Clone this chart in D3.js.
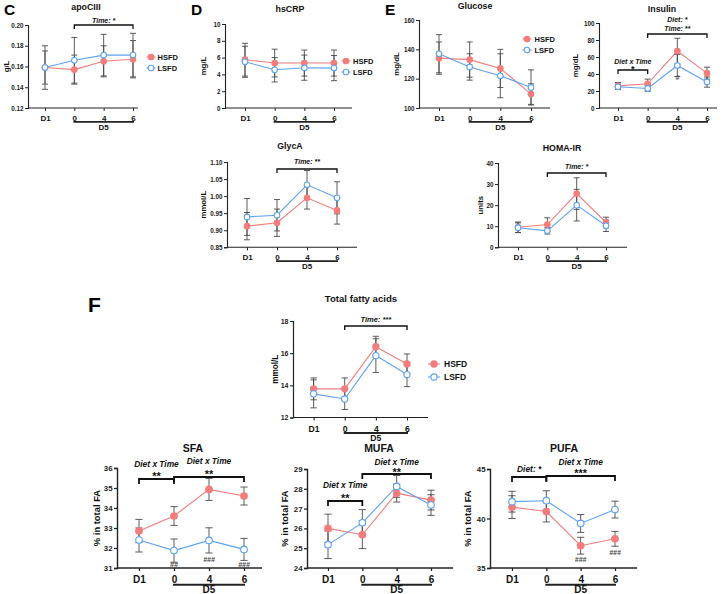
<!DOCTYPE html>
<html><head><meta charset="utf-8">
<script src="https://cdn.jsdelivr.net/npm/d3@7"></script>
<style>
body{margin:0;background:#fff}
svg{display:block;font-family:"Liberation Sans",Arial,Helvetica,sans-serif;font-weight:bold}
</style>
</head><body><svg id="c" width="728" height="594"></svg>
<script>
// ---------------- DATA ----------------
const timepoints = ["D1","0","4","6"];
const groupNames = ["HSFD","LSFD"];

const apoCIII_HSFD = [0.159,0.157,0.165,0.167];
const apoCIII_HSFD_sem = [0.016,0.014,0.015,0.018];
const apoCIII_LSFD = [0.159,0.166,0.171,0.171];
const apoCIII_LSFD_sem = [0.021,0.022,0.020,0.021];
const apoCIII_ticks = [0.12,0.14,0.16,0.18,0.20];

const hsCRP_HSFD = [5.75,5.35,5.35,5.35];
const hsCRP_HSFD_sem = [1.95,1.65,1.55,1.55];
const hsCRP_LSFD = [5.5,4.55,4.8,4.75];
const hsCRP_LSFD_sem = [1.85,1.45,1.5,1.5];
const hsCRP_ticks = [0,2,4,6,8,10];

const glucose_HSFD = [134,133,127,109.5];
const glucose_HSFD_sem = [11,12,13,7];
const glucose_LSFD = [137,128,122,114];
const glucose_LSFD_sem = [13,9,15,12];
const glucose_ticks = [100,120,140,160];

const insulin_HSFD = [26,28.5,67,41];
const insulin_HSFD_sem = [4,5.5,15,7];
const insulin_LSFD = [25,23,50,30.5];
const insulin_LSFD_sem = [3,3.5,13,6];
const insulin_ticks = [0,20,40,60,80,100];

const glycA_HSFD = [0.912,0.922,0.995,0.958];
const glycA_HSFD_sem = [0.040,0.040,0.033,0.040];
const glycA_LSFD = [0.939,0.944,1.033,0.995];
const glycA_LSFD_sem = [0.054,0.046,0.042,0.047];
const glycA_ticks = [0.85,0.90,0.95,1.00,1.05,1.10];

const homa_HSFD = [9.5,10.8,25.5,11.8];
const homa_HSFD_sem = [2.5,3.2,7.5,2.5];
const homa_LSFD = [9.3,7.8,20,10.2];
const homa_LSFD_sem = [2.3,1.5,7.5,2.7];
const homa_ticks = [0,10,20,30,40];

const tfa_HSFD = [13.78,13.78,16.4,15.33];
const tfa_HSFD_sem = [0.68,0.68,0.65,0.62];
const tfa_LSFD = [13.47,13.15,15.85,14.67];
const tfa_LSFD_sem = [0.87,0.65,1.05,0.75];
const tfa_ticks = [12,14,16,18];

const sfa_HSFD = [32.85,33.6,34.93,34.6];
const sfa_HSFD_sem = [0.58,0.47,0.55,0.45];
const sfa_LSFD = [32.4,31.87,32.38,31.93];
const sfa_LSFD_sem = [0.6,0.58,0.63,0.55];
const sfa_ticks = [31,32,33,34,35,36];

const mufa_HSFD = [26.0,25.68,27.78,27.43];
const mufa_HSFD_sem = [0.72,0.7,0.45,0.5];
const mufa_LSFD = [25.18,26.28,28.12,27.18];
const mufa_LSFD_sem = [0.7,0.67,0.55,0.52];
const mufa_ticks = [24,25,26,27,28,29];

const pufa_HSFD = [41.15,40.7,37.25,37.95];
const pufa_HSFD_sem = [1.15,1.05,0.85,0.75];
const pufa_LSFD = [41.7,41.8,39.5,40.9];
const pufa_LSFD_sem = [1.05,1.0,0.9,0.85];
const pufa_ticks = [35,40,45];

// ---------------- STYLE / LAYOUT ----------------
const colH = "#f47c7c", colL = "#5da2f2", errCol = "#4a4a4a";
const sz = {
  top: {xt:8, yt:6.3, title:8.8, yl:7.8, br:7, leg:7.5, r:2.8, cap:3, xb:12.7, bar:13.8, d5:21.8, brw:1.3, axw:1.1},
  mid: {xt:8.6, yt:7, title:9.6, yl:8.2, br:7.5, leg:8.5, r:3.1, cap:3.2, xb:14, bar:15.5, d5:23, brw:1.4, axw:1.2},
  bot: {xt:10, yt:7.8, title:10.5, yl:9.4, br:8.4, leg:8.5, r:3.3, cap:3.6, xb:15, bar:16.7, d5:24.8, brw:1.8, axw:1.4}
};

const panels = [
  {title:"apoCIII", unit:"g/L", H:apoCIII_HSFD, Hs:apoCIII_HSFD_sem, L:apoCIII_LSFD, Ls:apoCIII_LSFD_sem,
   ticks:apoCIII_ticks, fmt:".2f", ax:28, xEnd:138, yTop:25, yBot:108, c0:45, c3:133, s:"top",
   titleY:10, titleX:86, ylX:9,
   legend:{x:151, y:57, dy:11, tx:6.5},
   brackets:[{a:"0",b:"6",y:25,lines:[["Time: *",-2.5]]}]},
  {title:"hsCRP", unit:"mg/L", H:hsCRP_HSFD, Hs:hsCRP_HSFD_sem, L:hsCRP_LSFD, Ls:hsCRP_LSFD_sem,
   ticks:hsCRP_ticks, fmt:"d", ax:225, xEnd:352, yTop:24, yBot:108, c0:245, c3:334, s:"top",
   titleY:12, titleX:290, ylX:206,
   legend:{x:346, y:61, dy:11, tx:7}, brackets:[]},
  {title:"Glucose", unit:"mg/dL", H:glucose_HSFD, Hs:glucose_HSFD_sem, L:glucose_LSFD, Ls:glucose_LSFD_sem,
   ticks:glucose_ticks, fmt:"d", ax:419, xEnd:550, yTop:20, yBot:108, c0:439, c3:531, s:"top",
   titleY:9, titleX:475, ylX:399,
   legend:{x:527, y:39, dy:11, tx:7.5}, brackets:[]},
  {title:"Insulin", unit:"mg/dL", H:insulin_HSFD, Hs:insulin_HSFD_sem, L:insulin_LSFD, Ls:insulin_LSFD_sem,
   ticks:insulin_ticks, fmt:"d", ax:599, xEnd:717, yTop:23, yBot:108, c0:618, c3:707, s:"top",
   titleY:12, titleX:662, ylX:578,
   brackets:[{a:"D1",b:"0",y:70,lines:[["Diet x Time",-6.5],["*",2]]},
             {a:"0",b:"6",y:34,lines:[["Diet: *",-12.5],["Time: **",-3]]}],
   hashes:[{t:"4", v:35, txt:"#"}]},
  {title:"GlycA", unit:"mmol/L", H:glycA_HSFD, Hs:glycA_HSFD_sem, L:glycA_LSFD, Ls:glycA_LSFD_sem,
   ticks:glycA_ticks, fmt:".2f", ax:227, xEnd:357, yTop:162, yBot:247.3, c0:247, c3:337, s:"top",
   titleY:149, titleX:290, ylX:206,
   brackets:[{a:"0",b:"6",y:169,lines:[["Time: **",-5]]}]},
  {title:"HOMA-IR", unit:"units", H:homa_HSFD, Hs:homa_HSFD_sem, L:homa_LSFD, Ls:homa_LSFD_sem,
   ticks:homa_ticks, fmt:"d", ax:498, xEnd:627, yTop:163, yBot:247.3, c0:518, c3:606, s:"top",
   titleY:150.5, titleX:562, ylX:483,
   brackets:[{a:"0",b:"6",y:173,lines:[["Time: *",-4]]}]},
  {title:"Total fatty acids", unit:"mmol/L", H:tfa_HSFD, Hs:tfa_HSFD_sem, L:tfa_LSFD, Ls:tfa_LSFD_sem,
   ticks:tfa_ticks, fmt:"d", ax:293, xEnd:428, yTop:321, yBot:417.5, c0:313.6, c3:407, s:"mid",
   titleY:302, titleX:361, ylX:278,
   legend:{x:434, y:364, dy:13, tx:10},
   brackets:[{a:"0",b:"6",y:326,lines:[["Time: ***",-4.5]]}]},
  {title:"SFA", unit:"% in total FA", H:sfa_HSFD, Hs:sfa_HSFD_sem, L:sfa_LSFD, Ls:sfa_LSFD_sem,
   ticks:sfa_ticks, fmt:"d", ax:117, xEnd:262, yTop:468, yBot:568, c0:139, c3:244, s:"bot",
   titleY:452, titleX:193, ylX:100,
   brackets:[{a:"D1",b:"0",y:479,lines:[["Diet x Time",-12.5],["**",1]]},
             {a:"0",b:"6",y:477,lines:[["Diet x Time",-13.5],["**",1]]}],
   hashes:[{t:"0",v:31.15,txt:"##"},{t:"4",v:31.4,txt:"###"},{t:"6",v:31.15,txt:"###"}]},
  {title:"MUFA", unit:"% in total FA", H:mufa_HSFD, Hs:mufa_HSFD_sem, L:mufa_LSFD, Ls:mufa_LSFD_sem,
   ticks:mufa_ticks, fmt:"d", ax:307, xEnd:453, yTop:469, yBot:568, c0:328, c3:431, s:"bot",
   titleY:452, titleX:379, ylX:288,
   brackets:[{a:"D1",b:"0",y:501,lines:[["Diet x Time",-13],["**",1]]},
             {a:"0",b:"6",y:474,lines:[["Diet x Time",-9.5],["**",2]]}]},
  {title:"PUFA", unit:"% in total FA", H:pufa_HSFD, Hs:pufa_HSFD_sem, L:pufa_LSFD, Ls:pufa_LSFD_sem,
   ticks:pufa_ticks, fmt:"d", ax:490, xEnd:637, yTop:469, yBot:568, c0:512, c3:615, s:"bot",
   titleY:452, titleX:564, ylX:471,
   brackets:[{a:"D1",b:"0",y:477,lines:[["Diet: *",-5.5]]},
             {a:"0",b:"6",y:476,lines:[["Diet x Time",-11],["***",1]]}],
   hashes:[{t:"4",v:35.8,txt:"###"},{t:"6",v:36.5,txt:"###"}]}
];

const letters = [{t:"C",x:4,y:14.5,fs:15.5},{t:"D",x:191,y:14.5,fs:15.5},{t:"E",x:385,y:14.5,fs:15.5},{t:"F",x:88,y:312,fs:21}];

// ---------------- DRAW ----------------
const svg = d3.select("#c");
svg.append("rect").attr("width",728).attr("height",594).attr("fill","#fff");

letters.forEach(l => svg.append("text").attr("x",l.x).attr("y",l.y).attr("font-size",l.fs)
  .attr("font-weight","bold").attr("fill","#000").text(l.t));

panels.forEach(p => {
  const S = sz[p.s];
  const g = svg.append("g");
  const y = d3.scaleLinear().domain([p.ticks[0], p.ticks[p.ticks.length-1]]).range([p.yBot, p.yTop]);
  const x = d3.scalePoint().domain(timepoints).range([p.c0, p.c3]);

  g.append("text").attr("x",p.titleX).attr("y",p.titleY).attr("text-anchor","middle")
    .attr("font-size",S.title).attr("fill","#111").text(p.title);

  const yAx = g.append("g").attr("transform",`translate(${p.ax},0)`)
    .call(d3.axisLeft(y).tickValues(p.ticks).tickFormat(d3.format(p.fmt)).tickSize(3).tickPadding(1.5));
  yAx.select(".domain").attr("stroke","#222").attr("stroke-width",S.axw);
  yAx.selectAll(".tick line").attr("stroke","#222").attr("stroke-width",S.axw*0.9);
  yAx.selectAll("text").attr("font-size",S.yt).attr("font-weight","bold").attr("fill","#222")
     .attr("font-family",'"Liberation Sans",Arial,sans-serif');

  const xAx = g.append("g").attr("transform",`translate(0,${p.yBot})`)
    .call(d3.axisBottom(x).tickSize(3).tickPadding(S.xb - 3 - 0.71*S.xt));
  xAx.select(".domain").remove();
  xAx.append("line").attr("x1",p.ax).attr("x2",p.xEnd).attr("y1",0).attr("y2",0)
    .attr("stroke","#222").attr("stroke-width",S.axw);
  xAx.selectAll(".tick line").attr("stroke","#222").attr("stroke-width",S.axw*0.9);
  xAx.selectAll("text").attr("font-size",S.xt).attr("font-weight","bold").attr("fill","#111")
     .attr("font-family",'"Liberation Sans",Arial,sans-serif');
  g.append("line").attr("x1",x("0")-1).attr("x2",x("6")+1).attr("y1",p.yBot+S.bar).attr("y2",p.yBot+S.bar)
    .attr("stroke","#222").attr("stroke-width",S.axw*1.5);
  g.append("text").attr("x",(x("0")+x("6"))/2).attr("y",p.yBot+S.d5).attr("text-anchor","middle")
    .attr("font-size",S.xt).attr("fill","#111").text("D5");

  g.append("text").attr("transform",`translate(${p.ylX},${(p.yTop+p.yBot)/2}) rotate(-90)`)
    .attr("text-anchor","middle").attr("font-size",S.yl).attr("fill","#111").text(p.unit);

  const series = [
    {name:groupNames[0], m:p.H, e:p.Hs, col:colH, fill:colH},
    {name:groupNames[1], m:p.L, e:p.Ls, col:colL, fill:"#fff"}
  ];
  const line = d3.line().x((d,i)=>x(timepoints[i])).y(d=>y(d));
  series.forEach(s => g.append("path").attr("d",line(s.m)).attr("fill","none")
    .attr("stroke",s.col).attr("stroke-width",1.1));
  series.forEach(s => {
    s.m.forEach((v,i) => {
      const cx = x(timepoints[i]), y1 = y(v - s.e[i]), y2 = y(v + s.e[i]);
      g.append("line").attr("x1",cx).attr("x2",cx).attr("y1",y1).attr("y2",y2)
        .attr("stroke",errCol).attr("stroke-width",0.9);
      [y1,y2].forEach(yy => g.append("line").attr("x1",cx-S.cap).attr("x2",cx+S.cap)
        .attr("y1",yy).attr("y2",yy).attr("stroke",errCol).attr("stroke-width",0.9));
    });
  });
  series.forEach(s => {
    g.selectAll(null).data(s.m).enter().append("circle")
      .attr("cx",(d,i)=>x(timepoints[i])).attr("cy",d=>y(d)).attr("r",S.r)
      .attr("fill",s.fill).attr("stroke",s.col).attr("stroke-width",1.1);
  });

  (p.brackets||[]).forEach(b => {
    const xa = x(b.a), xb = x(b.b), drop = p.s==="bot"?5:4;
    g.append("path").attr("d",`M${xa},${b.y+drop}V${b.y}H${xb}V${b.y+drop}`)
      .attr("fill","none").attr("stroke","#111").attr("stroke-width",S.brw);
    b.lines.forEach(([t,dy]) => {
      const star = /^\*+$/.test(t);
      g.append("text").attr("x",(xa+xb)/2).attr("y",b.y+dy)
        .attr("text-anchor","middle").attr("font-size",star?S.br*1.3:S.br)
        .attr("font-style", star?"normal":"italic")
        .attr("fill","#111").text(t);
    });
  });

  (p.hashes||[]).forEach(h => g.append("text").attr("x",x(h.t)).attr("y",y(h.v))
    .attr("dominant-baseline","middle").attr("text-anchor","middle")
    .attr("font-size",7).attr("font-style","italic").attr("fill","#444").text(h.txt));

  if (p.legend) {
    const L = p.legend;
    series.forEach((s,i) => {
      const ly = L.y + i*L.dy;
      const half = p.s==="mid"?6:4.5;
      g.append("line").attr("x1",L.x-half).attr("x2",L.x+half).attr("y1",ly).attr("y2",ly)
        .attr("stroke",s.col).attr("stroke-width",1.1);
      g.append("circle").attr("cx",L.x).attr("cy",ly).attr("r",S.r).attr("fill",s.fill)
        .attr("stroke",s.col).attr("stroke-width",1.1);
      g.append("text").attr("x",L.x+L.tx).attr("y",ly+S.leg*0.36).attr("font-size",S.leg)
        .attr("fill","#111").text(s.name);
    });
  }
});
</script>
</body></html>
